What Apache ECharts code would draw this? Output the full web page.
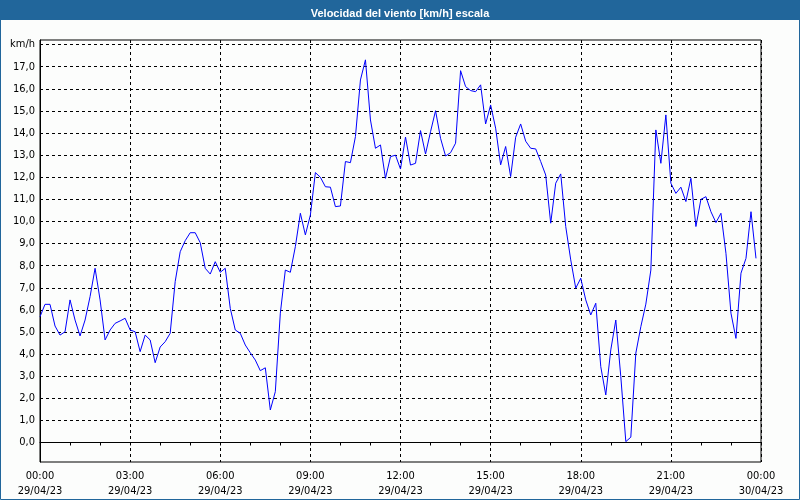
<!DOCTYPE html>
<html>
<head>
<meta charset="utf-8">
<script src="https://cdn.jsdelivr.net/npm/echarts@6/dist/echarts.min.js"></script>
<style>
html,body{margin:0;padding:0;background:#fcfdfc;}
#chart{width:800px;height:500px;}
</style>
</head>
<body>
<div id="chart"></div>
<script>
const titleText = 'Velocidad del viento [km/h] escala';
const stepMinutes = 10;
const speeds = [
  5.69, 6.25, 6.25, 5.27, 4.86, 5.01, 6.45, 5.54, 4.82, 5.54, 6.60, 7.88,
  6.45, 4.64, 5.09, 5.39, 5.50, 5.62, 5.09, 5.01, 4.11, 4.86, 4.64, 3.61,
  4.32, 4.56, 4.94, 7.28, 8.63, 9.13, 9.49, 9.49, 9.04, 7.88, 7.62, 8.18,
  7.70, 7.88, 6.07, 5.09, 4.94, 4.41, 4.06, 3.73, 3.25, 3.38, 1.47, 2.30,
  5.85, 7.80, 7.70, 8.86, 10.37, 9.39, 10.29, 12.21, 12.00, 11.57, 11.55, 10.67,
  10.70, 12.71, 12.66, 13.84, 16.40, 17.31, 14.59, 13.31, 13.46, 11.95, 12.93, 13.00,
  12.37, 13.82, 12.55, 12.63, 14.11, 13.05, 14.06, 15.01, 13.76, 12.96, 13.11, 13.54,
  16.82, 16.10, 15.92, 15.87, 16.18, 14.41, 15.27, 14.22, 12.56, 13.39, 12.03, 13.81,
  14.41, 13.63, 13.31, 13.28, 12.71, 12.10, 9.92, 11.73, 12.15, 9.77, 8.26, 6.98,
  7.43, 6.45, 5.77, 6.30, 3.43, 2.15, 4.19, 5.54, 2.98, 0.04, 0.24, 4.04,
  5.24, 6.26, 7.80, 14.14, 12.63, 14.82, 11.73, 11.27, 11.55, 10.90, 11.95, 9.77,
  11.00, 11.12, 10.44, 9.95, 10.37, 8.56, 5.85, 4.71, 7.66, 8.33, 10.44, 8.33
];
const xTickLabels = [
  '00:00\n29/04/23', '03:00\n29/04/23', '06:00\n29/04/23', '09:00\n29/04/23',
  '12:00\n29/04/23', '15:00\n29/04/23', '18:00\n29/04/23', '21:00\n29/04/23',
  '00:00\n30/04/23'
];
const yTickValues = [0,1,2,3,4,5,6,7,8,9,10,11,12,13,14,15,16,17,18];
const yUnitLabel = 'km/h';

const FONT = 'Tahoma, "DejaVu Sans Condensed", "Liberation Sans", sans-serif';
const TITLE_FONT = 'Tahoma, "Liberation Sans", sans-serif';
const BLUE = '#21669b';

const chart = echarts.init(document.getElementById('chart'), null, {renderer: 'canvas'});
const seriesData = speeds.map((v, i) => [i * stepMinutes / 60, v]);

chart.setOption({
  backgroundColor: '#fcfdfc',
  animation: false,
  title: {
    text: titleText,
    left: 'center',
    top: 3,
    z: 100,
    textStyle: {color: '#ffffff', fontSize: 11, fontWeight: 'bold', fontFamily: TITLE_FONT}
  },
  graphic: {
    elements: [
      {type: 'rect', z: -10, silent: true, shape: {x: 0, y: 0, width: 800, height: 20}, style: {fill: BLUE}},
      {type: 'rect', z: -10, silent: true, shape: {x: 0.5, y: 0.5, width: 799, height: 499}, style: {fill: null, stroke: BLUE, lineWidth: 1}}
    ]
  },
  grid: {
    left: 40, right: 39, top: 40, bottom: 38,
    show: true, borderColor: '#000', borderWidth: 1, backgroundColor: 'transparent',
    containLabel: false
  },
  xAxis: {
    type: 'value',
    min: 0, max: 24, interval: 3,
    axisLine: {show: true, lineStyle: {color: '#000', width: 1}},
    axisTick: {show: true, length: 3, lineStyle: {color: '#000'}},
    minorTick: {show: true, splitNumber: 3, length: 3, lineStyle: {color: '#000'}},
    minorSplitLine: {show: false},
    splitLine: {show: true, lineStyle: {color: '#000', type: [3, 3], width: 1}},
    axisLabel: {
      color: '#000', fontSize: 11, fontFamily: FONT, margin: 7, lineHeight: 15,
      showMinLabel: true, showMaxLabel: true,
      formatter: v => xTickLabels[Math.round(v / 3)] || ''
    }
  },
  yAxis: {
    type: 'value',
    min: -0.882, max: 18.208,
    axisLine: {show: true, lineStyle: {color: '#000', width: 1}},
    axisTick: {show: false, customValues: yTickValues},
    splitLine: {show: true, lineStyle: {color: '#000', type: [3, 3], width: 1}},
    axisLabel: {
      customValues: yTickValues,
      color: '#000', fontSize: 11, fontFamily: FONT, margin: 5,
      formatter: v => v === 18 ? yUnitLabel : v.toFixed(1).replace('.', ',')
    }
  },
  series: [{
    type: 'line',
    data: seriesData,
    showSymbol: false,
    symbol: 'none',
    smooth: false,
    lineStyle: {color: '#0000ff', width: 1},
    z: 5
  }]
});
</script>
</body>
</html>
